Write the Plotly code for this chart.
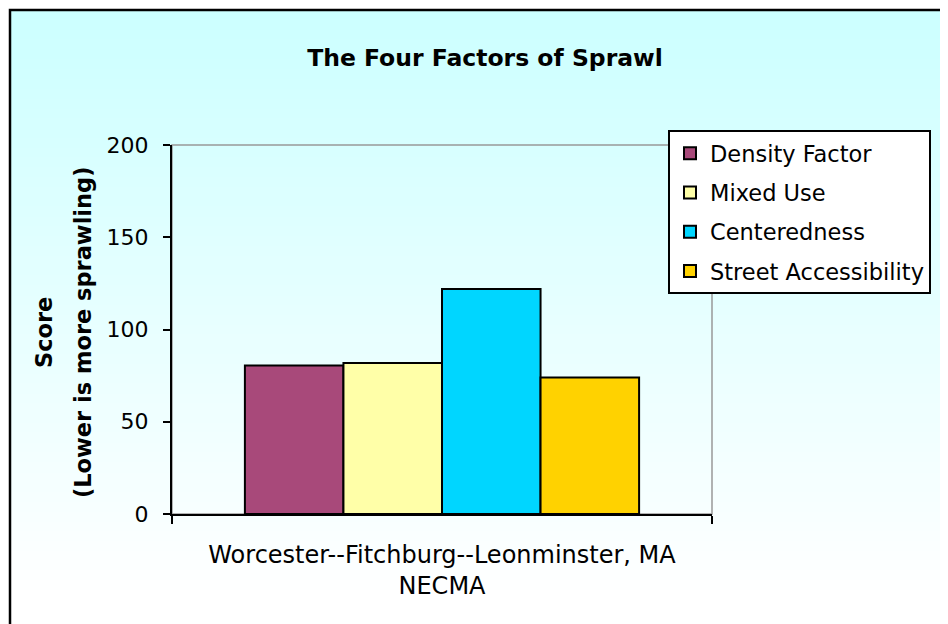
import plotly.graph_objects as go

# ---- data ----
categories = ["Worcester--Fitchburg--Leonminster, MA<br>NECMA"]
series_names = ["Density Factor", "Mixed Use", "Centeredness", "Street Accessibility"]
density = [80.5]
mixed_use = [81.8]
centeredness = [122.0]
street = [74.0]
series_values = [density, mixed_use, centeredness, street]
colors = ["#A8497A", "#FFFFA8", "#00D6FF", "#FFD200"]
y_ticks = [0, 50, 100, 150, 200]

# page body has an 8px margin -> figure is 940x616 placed at (8, 8)
OFF = 8
W, H = 948 - OFF, 624 - OFF
ML, MT = 172 - OFF, 145 - OFF
MR = W - (712 - OFF)
MB = H - (514 - OFF)
PW, PH = W - ML - MR, H - MT - MB


def px2x(px):
    return (px - OFF - ML) / PW


def px2y(py):
    return (H - MB - (py - OFF)) / PH


FONT = "DejaVu Sans, Liberation Sans, Arial, sans-serif"

fig = go.Figure()
for name, vals, col in zip(series_names, series_values, colors):
    fig.add_trace(go.Bar(
        x=categories, y=vals, name=name, legendgroup=name,
        marker=dict(color=col, line=dict(color="black", width=2)),
    ))

shapes = []
# gradient background (cyan -> white)
top_c = (204, 255, 255)
n = 60
y0px, y1px = 10, 600
for i in range(n):
    a = y0px + (y1px - y0px) * i / n
    b = y0px + (y1px - y0px) * (i + 1) / n + 1
    t = i / (n - 1)
    c = tuple(int(round(top_c[k] + (255 - top_c[k]) * t)) for k in range(3))
    shapes.append(dict(type="rect", xref="paper", yref="paper",
                       x0=px2x(10), x1=px2x(960), y0=px2y(a), y1=px2y(b),
                       fillcolor="rgb(%d,%d,%d)" % c, line=dict(width=0), layer="below"))
# plot area outline (grey)
shapes.append(dict(type="rect", xref="paper", yref="paper", x0=0, x1=1, y0=0, y1=1,
                   line=dict(color="#999999", width=1.5), layer="below"))
# outer black frame
shapes.append(dict(type="rect", xref="paper", yref="paper",
                   x0=px2x(10), x1=px2x(960), y0=px2y(10), y1=px2y(640),
                   line=dict(color="black", width=2.5), layer="above"))

fig.update_layout(
    width=W, height=H,
    margin=dict(l=ML, r=MR, t=MT, b=MB, pad=0),
    paper_bgcolor="white", plot_bgcolor="rgba(0,0,0,0)",
    font=dict(family=FONT, size=22, color="black"),
    barmode="group", bargap=0.27, bargroupgap=0,
    shapes=shapes,
    title=dict(text="<b>The Four Factors of Sprawl</b>", x=(485 - OFF) / W,
               xanchor="center", y=1 - (58 - OFF) / H, yanchor="middle",
               font=dict(family=FONT, size=23.5, color="black")),
    legend=dict(x=px2x(668), y=px2y(130), xanchor="left", yanchor="top",
                bgcolor="white", bordercolor="black", borderwidth=2,
                font=dict(family=FONT, size=22.5, color="black"),
                tracegroupgap=7, traceorder="grouped"),
    annotations=[
        dict(text="<b>Score</b>", xref="paper", yref="paper", x=px2x(44), y=px2y(333),
             textangle=-90, showarrow=False, xanchor="center", yanchor="middle",
             font=dict(family=FONT, size=22.5, color="black")),
        dict(text="<b>(Lower is more sprawling)</b>", xref="paper", yref="paper",
             x=px2x(83), y=px2y(333), textangle=-90, showarrow=False,
             xanchor="center", yanchor="middle",
             font=dict(family=FONT, size=22.5, color="black")),
    ],
)
fig.update_yaxes(range=[0, 200], tickvals=y_ticks, ticks="outside", ticklen=7,
                 tickcolor="black", tickwidth=2, showline=True, linecolor="black",
                 linewidth=2, showgrid=False, zeroline=False, ticklabelstandoff=10,
                 tickfont=dict(family=FONT, size=22, color="black"))
fig.update_xaxes(ticks="outside", tickson="boundaries", ticklen=8, tickcolor="black",
                 tickwidth=2, showline=True, linecolor="black", linewidth=2,
                 showgrid=False, ticklabelstandoff=18,
                 tickfont=dict(family=FONT, size=24, color="black"))

fig.write_html("out.html")
